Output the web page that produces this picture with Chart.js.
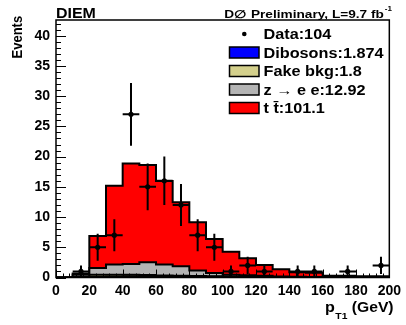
<!DOCTYPE html>
<html><head><meta charset="utf-8">
<script src="https://cdn.jsdelivr.net/npm/chart.js@4/dist/chart.umd.min.js"></script>
<style>html,body{margin:0;padding:0;background:#fff;overflow:hidden}canvas{display:block}</style>
</head><body>
<canvas id="c" width="406" height="325"></canvas>
<script>
// ---- data (bins of 10 GeV in leading-lepton pT) ----
const binEdges   = [0,10,20,30,40,50,60,70,80,90,100,110,120,130,140,150,160,170,180,190,200];
const dataCounts = [0,1,5,7,27,15,16,12,7,5,1,2,1,0,1,1,0,1,0,2];
const ttbar      = [0,0.2,5.3,13.0,16.6,16.1,13.8,10.6,8.0,5.6,3.8,2.8,1.8,1.2,0.75,0.7,0.2,0.2,0.15,0.15];
const zee        = [0,0.4,1.1,1.7,1.8,2.1,1.8,1.55,0.9,0.55,0.3,0.25,0.18,0.1,0.08,0.05,0.05,0.05,0.03,0.03];
const fakeBkg    = [0,0.05,0.35,0.3,0.25,0.2,0.15,0.12,0.1,0.08,0.06,0.04,0.03,0.02,0.01,0.01,0.01,0.01,0.005,0.005];
const dibosons   = [0,0.02,0.12,0.17,0.2,0.22,0.2,0.19,0.16,0.13,0.11,0.09,0.07,0.06,0.04,0.03,0.02,0.02,0.01,0.01];
const seriesNames  = ['Data','Dibosons','Fake bkg','z \u2192 e e','t t\u0304'];
const seriesTotals = ['104','1.874','1.8','12.92','101.1'];
const xTickValues = [0,20,40,60,80,100,120,140,160,180,200];
const yTickValues = [0,5,10,15,20,25,30,35,40];
const titleText = 'DIEM';
const expText = 'D\u2205 Preliminary, L=9.7 fb';
const expSup = '-1';
const yTitle = 'Events';
const xTitleMain = 'p', xTitleSub = 'T1', xTitleUnit = ' (GeV)';

// ---- build cumulative stacks ----
const nb = dataCounts.length;
const cumDib = [], cumFake = [], cumZee = [], cumTot = [];
for (let i = 0; i < nb; i++) {
  cumDib.push(dibosons[i]);
  cumFake.push(cumDib[i] + fakeBkg[i]);
  cumZee.push(cumFake[i] + zee[i]);
  cumTot.push(cumZee[i] + ttbar[i]);
}
function stepPoints(vals) {
  const pts = [{x: binEdges[0], y: 0}];
  for (let i = 0; i < vals.length; i++) pts.push({x: binEdges[i], y: vals[i]});
  pts.push({x: binEdges[vals.length], y: vals[vals.length - 1]});
  pts.push({x: binEdges[vals.length], y: 0});
  return pts;
}
const dataPoints = [];
for (let i = 0; i < nb; i++) if (dataCounts[i] > 0)
  dataPoints.push({x: (binEdges[i] + binEdges[i+1]) / 2, y: dataCounts[i], lo: binEdges[i], hi: binEdges[i+1]});

const FONT = '"Liberation Sans", Arial, Helvetica, sans-serif';
const colors = {dib: '#0000ff', fake: '#d4d08c', zee: '#b4b4b4', tt: '#ff0000'};

function sText(ctx, txt, x, y, size, sx, align) {
  ctx.save();
  ctx.font = 'bold ' + size + 'px ' + FONT;
  ctx.textBaseline = 'alphabetic';
  ctx.textAlign = 'left';
  const w = ctx.measureText(txt).width * sx;
  let x0 = x;
  if (align === 'right') x0 = x - w; else if (align === 'center') x0 = x - w / 2;
  ctx.translate(x0, y); ctx.scale(sx, 1);
  ctx.fillStyle = '#000';
  ctx.fillText(txt, 0, 0);
  ctx.restore();
  return w;
}

const rootPlugin = {
  id: 'rootStyle',
  afterDatasetsDraw(chart) {
    const ctx = chart.ctx, xs = chart.scales.x, ys = chart.scales.y, a = chart.chartArea;
    // error bars
    ctx.save();
    ctx.strokeStyle = '#000'; ctx.lineWidth = 2; ctx.lineCap = 'butt';
    dataPoints.forEach(p => {
      const e = Math.sqrt(p.y);
      const px = xs.getPixelForValue(p.x), py = ys.getPixelForValue(p.y);
      ctx.beginPath();
      ctx.moveTo(xs.getPixelForValue(p.lo), py); ctx.lineTo(xs.getPixelForValue(p.hi), py);
      ctx.moveTo(px, Math.min(ys.getPixelForValue(p.y - e), a.bottom)); ctx.lineTo(px, ys.getPixelForValue(p.y + e));
      ctx.stroke();
    });
    ctx.restore();
    // ticks (inside) and frame
    ctx.save();
    ctx.strokeStyle = '#000'; ctx.lineWidth = 1;
    ctx.beginPath();
    for (let v = 0; v <= ys.max; v += 1) {
      const y = Math.round(ys.getPixelForValue(v)) + 0.5;
      const len = (v % 5 === 0) ? 10 : 5;
      ctx.moveTo(a.left, y); ctx.lineTo(a.left + len, y);
    }
    for (let v = 0; v <= xs.max; v += 4) {
      const x = Math.round(xs.getPixelForValue(v)) + 0.5;
      const len = (v % 20 === 0) ? 8 : 4;
      ctx.moveTo(x, a.bottom); ctx.lineTo(x, a.bottom - len);
    }
    ctx.stroke();
    ctx.lineWidth = 1.5;
    ctx.strokeRect(a.left, a.top, a.right - a.left, a.bottom - a.top);
    ctx.restore();
  },
  afterDraw(chart) {
    const ctx = chart.ctx;
    // titles
    sText(ctx, titleText, 56, 18, 14, 1.14, 'left');
    const supW = sText(ctx, expSup, 392, 11, 7, 1.15, 'right');
    sText(ctx, expText, 392 - supW - 1, 17.5, 10.5, 1.3, 'right');
    // y title (rotated)
    ctx.save();
    ctx.translate(22, 58.5); ctx.rotate(-Math.PI / 2);
    ctx.scale(1, 1.12);
    ctx.font = 'bold 13px ' + FONT; ctx.fillStyle = '#000'; ctx.textAlign = 'left'; ctx.textBaseline = 'alphabetic';
    ctx.fillText(yTitle, 0, 0);
    ctx.restore();
    // x title with subscript
    let x = 325;
    x += sText(ctx, xTitleMain, x, 312, 14, 1.15, 'left') + 0.5;
    x += sText(ctx, xTitleSub, x, 319, 9, 1.15, 'left');
    sText(ctx, xTitleUnit, x, 312, 14, 1.12, 'left');
    // legend
    const rows = [39, 57.5, 76, 94.5, 113];
    const fills = [null, colors.dib, colors.fake, colors.zee, colors.tt];
    ctx.save();
    for (let i = 0; i < seriesNames.length; i++) {
      const base = rows[i];
      if (fills[i] === null) {
        ctx.beginPath(); ctx.fillStyle = '#000';
        ctx.arc(244.3, base - 5, 2.3, 0, Math.PI * 2); ctx.fill();
      } else {
        ctx.fillStyle = fills[i];
        ctx.fillRect(229.5, base - 10.5, 29.5, 11);
        ctx.strokeStyle = '#000'; ctx.lineWidth = 1.5;
        ctx.strokeRect(229.5, base - 10.5, 29.5, 11);
      }
      sText(ctx, seriesNames[i] + ':' + seriesTotals[i], 263.5, base, 14, 1.16, 'left');
    }
    ctx.restore();
  }
};

const histStyle = {stepped: true, fill: 'origin', borderColor: '#000', borderWidth: 2,
  pointRadius: 0, borderJoinStyle: 'miter', borderCapStyle: 'butt', tension: 0};

new Chart(document.getElementById('c'), {
  type: 'line',
  data: {datasets: [
    {label: seriesNames[0], data: dataPoints, showLine: false, pointRadius: 2.6,
     pointBackgroundColor: '#000', pointBorderColor: '#000', pointBorderWidth: 0},
    Object.assign({label: seriesNames[1], data: stepPoints(cumDib), backgroundColor: colors.dib}, histStyle),
    Object.assign({label: seriesNames[2], data: stepPoints(cumFake), backgroundColor: colors.fake}, histStyle),
    Object.assign({label: seriesNames[3], data: stepPoints(cumZee), backgroundColor: colors.zee}, histStyle),
    Object.assign({label: seriesNames[4], data: stepPoints(cumTot), backgroundColor: colors.tt}, histStyle)
  ]},
  options: {
    responsive: false, animation: false, devicePixelRatio: 1,
    layout: {padding: {top: 20, right: 13.5, left: 0, bottom: 0}},
    plugins: {legend: {display: false}, tooltip: {enabled: false}},
    scales: {
      x: {type: 'linear', min: 0, max: 200,
          grid: {display: false, drawTicks: false}, border: {display: false},
          afterBuildTicks: s => { s.ticks = xTickValues.map(v => ({value: v})); },
          ticks: {font: {size: 14, weight: 'bold', family: FONT}, color: '#000', padding: 5, maxRotation: 0, autoSkip: false},
          afterFit: s => { s.height = 47.5; }},
      y: {type: 'linear', min: 0, max: 42.6,
          grid: {display: false, drawTicks: false}, border: {display: false},
          afterBuildTicks: s => { s.ticks = yTickValues.map(v => ({value: v})); },
          ticks: {font: {size: 14, weight: 'bold', family: FONT}, color: '#000', padding: 6, autoSkip: false},
          afterFit: s => { s.width = 56; }}
    }
  },
  plugins: [rootPlugin]
});
</script>
</body></html>
